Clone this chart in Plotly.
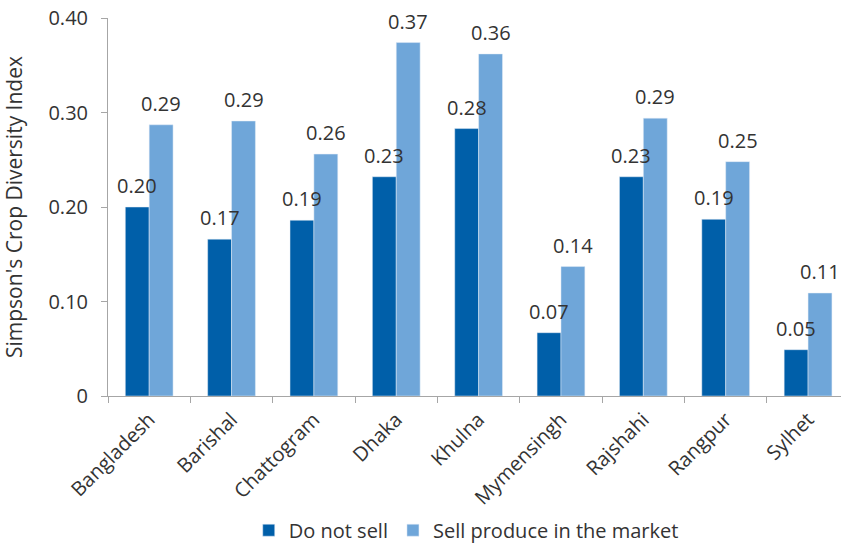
import plotly.graph_objects as go

regions = ["Bangladesh", "Barishal", "Chattogram", "Dhaka", "Khulna",
           "Mymensingh", "Rajshahi", "Rangpur", "Sylhet"]
do_not_sell = [0.200, 0.166, 0.186, 0.232, 0.283, 0.067, 0.232, 0.187, 0.049]
sell_market = [0.287, 0.291, 0.256, 0.374, 0.362, 0.137, 0.294, 0.248, 0.109]
ytick_vals = [0, 0.10, 0.20, 0.30, 0.40]
ytick_text = ["0", "0.10", "0.20", "0.30", "0.40"]

FONT = "Open Sans"
TXT = "#333333"
AX = "#A6A6A6"
DARK = "#005FA9"
LIGHT = "#6FA6D9"

fig = go.Figure()
fig.add_trace(go.Bar(name="Do not sell", x=regions, y=do_not_sell, marker_color=DARK))
fig.add_trace(go.Bar(name="Sell produce in the market", x=regions, y=sell_market,
                     marker_color=LIGHT))

# value labels drawn on top of all bars
for series, shift in ((do_not_sell, -12), (sell_market, 12)):
    for r, v in zip(regions, series):
        fig.add_annotation(x=r, y=v, text=f"{v:.2f}", showarrow=False,
                           xshift=shift, yshift=6, yanchor="bottom",
                           font=dict(family=FONT, size=20, color=TXT))

fig.update_layout(
    width=841, height=546,
    margin=dict(l=108, r=0, t=18, b=150, autoexpand=False),
    paper_bgcolor="white", plot_bgcolor="white",
    barmode="group", bargap=0.42, bargroupgap=0,
    font=dict(family=FONT, size=20, color=TXT),
    showlegend=True,
    legend=dict(orientation="h", x=0.192, xanchor="left", y=-0.355, yanchor="middle",
                font=dict(family=FONT, size=20, color=TXT), itemwidth=30,
                traceorder="normal"),
)
fig.update_xaxes(
    range=[-0.5, 8.4], showline=True, linecolor=AX, linewidth=1,
    ticks="outside", tickson="boundaries", ticklen=6, tickcolor=AX,
    tickangle=-45, tickfont=dict(family=FONT, size=20, color=TXT),
    ticklabelstandoff=3, ticklabeloverflow="allow",
    showgrid=False, zeroline=False, automargin=False)
fig.update_yaxes(
    range=[0, 0.40], tickvals=ytick_vals, ticktext=ytick_text,
    showline=True, linecolor=AX, linewidth=1,
    ticks="outside", ticklen=6, tickcolor=AX,
    tickfont=dict(family=FONT, size=20, color=TXT), ticklabelstandoff=9,
    ticklabeloverflow="allow",
    showgrid=False, zeroline=False, automargin=False,
    title=dict(text="Simpson's Crop Diversity Index",
               font=dict(family=FONT, size=21, color=TXT), standoff=20))

fig.write_html("out.html", config={"displayModeBar": False},
               post_script="document.body.style.margin='0';document.body.style.overflow='hidden';")
